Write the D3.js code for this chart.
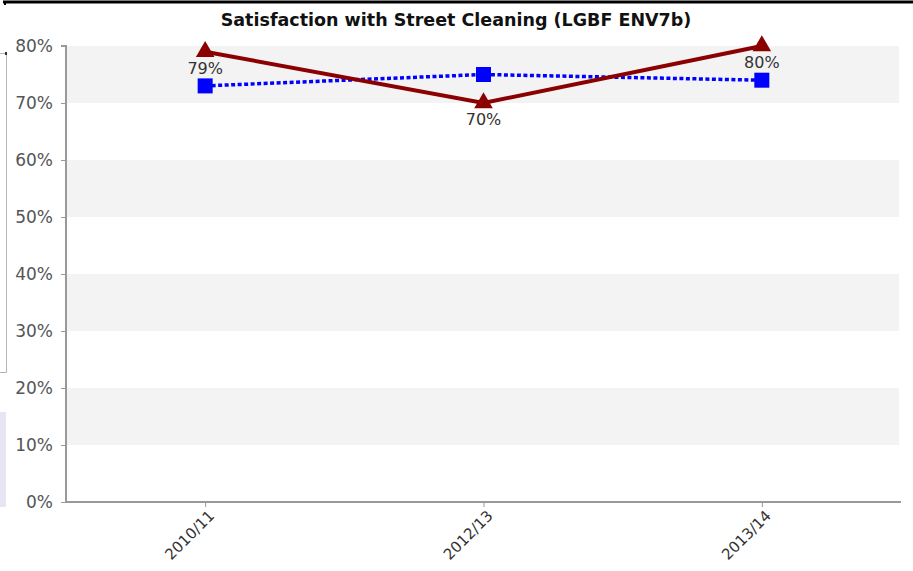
<!DOCTYPE html>
<html><head><meta charset="utf-8">
<script src="https://cdn.jsdelivr.net/npm/d3@7"></script>
<style>
html,body{margin:0;padding:0;background:#fff;}
svg{display:block;}
</style></head>
<body>
<svg id="chart" width="913" height="571"></svg>
<script>
const title = "Satisfaction with Street Cleaning (LGBF ENV7b)";
const categories = ["2010/11", "2012/13", "2013/14"];
const councilValues = [79, 70, 80];      // dark red, triangles, labelled
const comparatorValues = [73, 75, 74];   // blue dotted, squares
const yTicks = [0, 10, 20, 30, 40, 50, 60, 70, 80];

(function () {
const svg = d3.select("#chart");
const W = 913, H = 571;
const mLeft = 66, mRight = 901, mTop = 46, mBottom = 502;

const x = d3.scalePoint().domain(categories).range([mLeft, mRight]).padding(0.5);
const y = d3.scaleLinear().domain([0, 80]).range([mBottom, mTop]);

// page artefacts (cropped screenshot)
svg.append("line").attr("x1", 3).attr("x2", W).attr("y1", 2).attr("y2", 2)
  .attr("stroke", "#000").attr("stroke-width", 3);
svg.append("rect").attr("x", 4).attr("y", 2).attr("width", 2).attr("height", 3).attr("fill", "#000");
svg.append("path").attr("d", "M0,53.5H6.5V372.5H0").attr("fill", "none").attr("stroke", "#b5b5b5").attr("stroke-width", 1);
svg.append("rect").attr("x", 5).attr("y", 52).attr("width", 2).attr("height", 3).attr("fill", "#333");
svg.append("rect").attr("x", 0).attr("y", 412).attr("width", 6).attr("height", 95).attr("fill", "#e6e6f2");

// bands
const bands = yTicks.slice(0, -1).filter((d, i) => i % 2 === 1);
svg.append("g").selectAll("rect").data(bands).join("rect")
  .attr("x", mLeft).attr("width", 899 - mLeft)
  .attr("y", d => y(d + 10)).attr("height", d => y(d) - y(d + 10))
  .attr("fill", "#f3f3f3");

// title
svg.append("text").attr("x", 456).attr("y", 26).attr("text-anchor", "middle")
  .attr("font-family", "DejaVu Sans").attr("font-weight", "bold").attr("font-size", 17.5)
  .attr("fill", "#111").text(title);

// y axis
const yAxis = svg.append("g").attr("transform", `translate(${mLeft},0)`)
  .call(d3.axisLeft(y).tickValues(yTicks).tickFormat(d => d + "%").tickSize(5).tickPadding(8));
yAxis.select(".domain").attr("stroke", "#999").attr("stroke-width", 2).attr("d", `M-5,${mTop}H0V${mBottom}`);
yAxis.selectAll(".tick line").attr("stroke", "#999");
yAxis.selectAll(".tick text").attr("font-family", "DejaVu Sans").attr("font-size", 17).attr("fill", "#555");

// x axis
const xAxis = svg.append("g").attr("transform", `translate(0,${mBottom})`)
  .call(d3.axisBottom(x).tickSize(5).tickPadding(6));
xAxis.select(".domain").attr("stroke", "#999").attr("stroke-width", 2).attr("d", `M${mLeft},0H${mRight}`);
xAxis.selectAll(".tick line").attr("stroke", "#999");
xAxis.selectAll(".tick text").attr("font-family", "DejaVu Sans").attr("font-size", 15).attr("fill", "#333")
  .attr("text-anchor", "end").attr("x", 0).attr("y", 0).attr("dy", "0.35em")
  .attr("transform", "translate(6,11) rotate(-45)");

// comparator (blue dotted)
const line = d3.line().x((d, i) => x(categories[i])).y(d => y(d));
svg.append("path").datum(comparatorValues).attr("d", line)
  .attr("fill", "none").attr("stroke", "#0000ff").attr("stroke-width", 3.5)
  .attr("stroke-dasharray", "4,2.5");
svg.append("g").selectAll("rect").data(comparatorValues).join("rect")
  .attr("x", (d, i) => x(categories[i]) - 7.5).attr("y", d => y(d) - 7.5)
  .attr("width", 15).attr("height", 15).attr("fill", "#0000ff");

// council (dark red)
svg.append("path").datum(councilValues).attr("d", line)
  .attr("fill", "none").attr("stroke", "#8b0000").attr("stroke-width", 4);
const tri = d3.symbol().type(d3.symbolTriangle).size(150);
svg.append("g").selectAll("path").data(councilValues).join("path")
  .attr("d", tri).attr("transform", (d, i) => `translate(${x(categories[i])},${y(d)})`)
  .attr("fill", "#8b0000");
svg.append("g").selectAll("text").data(councilValues).join("text")
  .attr("x", (d, i) => x(categories[i])).attr("y", d => y(d) + 22)
  .attr("text-anchor", "middle").attr("font-family", "DejaVu Sans").attr("font-size", 16)
  .attr("fill", "#333").text(d => d + "%");
})();
</script>
</body></html>
